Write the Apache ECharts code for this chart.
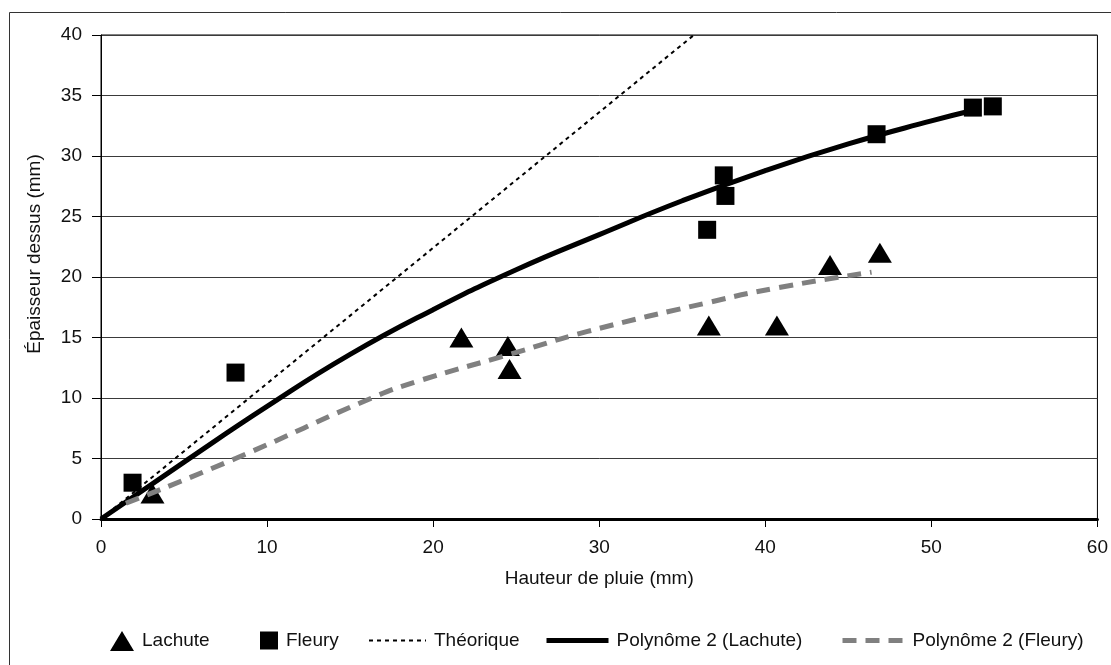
<!DOCTYPE html>
<html>
<head>
<meta charset="utf-8">
<script src="https://cdn.jsdelivr.net/npm/echarts@6/dist/echarts.min.js"></script>
<style>
  html, body { margin: 0; padding: 0; background: #fff; }
  #chart { width: 1111px; height: 665px; }
</style>
</head>
<body>
<div id="chart"></div>
<script>
// points
const lachuteX = [3.1, 21.7, 24.5, 24.6, 36.6, 40.7, 43.9, 46.9];
const lachuteY = [2.1, 15.0, 14.3, 12.4, 16.0, 16.0, 21.0, 22.0];
const fleuryX = [1.9, 8.1, 36.5, 37.5, 37.6, 46.7, 52.5, 53.7];
const fleuryY = [3.0, 12.1, 23.9, 28.4, 26.7, 31.8, 34.0, 34.1];
// traced lines
const theoX = [0, 35.7];
const theoY = [0, 40];
const polyLachuteX = [0, 5, 10, 15, 20, 25, 30, 35, 40, 45, 50, 52.6];
const polyLachuteY = [0, 4.7, 9.3, 13.6, 17.3, 20.6, 23.5, 26.3, 28.8, 31.0, 32.9, 33.8];
const polyFleuryX = [1.5, 8.1, 16.3, 19.1, 24.6, 29.3, 36.6, 40.7, 46.4];
const polyFleuryY = [1.3, 5, 10, 11.4, 13.6, 15.5, 17.9, 19.1, 20.4];

const font = "'Liberation Sans', Arial, sans-serif";
const fs = 19;

function pairs(xs, ys) {
  return xs.map((x, i) => [x, ys[i]]);
}

function legendAt(name, left, w, h, lineW) {
  let l = {
    data: [name],
    left: left,
    top: 626,
    itemWidth: w,
    itemHeight: h,
    symbolKeepAspect: false,
    textStyle: { fontFamily: font, fontSize: fs, color: '#111', padding: [0, 0, 0, 3] }
  };
  if (lineW) {
    l.itemStyle = { color: 'rgba(0,0,0,0)', borderWidth: 0, opacity: 0 };
    l.lineStyle = { width: lineW };
  }
  return l;
}

let myCharts = echarts.init(document.getElementById('chart'));
let option = {
  animation: false,
  backgroundColor: '#fff',
  graphic: [
    {
      type: 'rect',
      shape: { x: 9.5, y: 12.5, width: 1200, height: 700 },
      style: { fill: 'none', stroke: '#333', lineWidth: 1 },
      silent: true
    },
    {
      type: 'text',
      x: 35, y: 254,
      rotation: Math.PI / 2,
      style: {
        text: 'Épaisseur dessus (mm)',
        fontFamily: font, fontSize: fs, fill: '#111',
        textAlign: 'center', textVerticalAlign: 'middle'
      },
      silent: true
    }
  ],
  grid: {
    left: 101, right: 11, top: 35, bottom: 146,
    show: true, borderColor: '#000', borderWidth: 1, backgroundColor: 'transparent'
  },
  legend: [
    legendAt('Lachute', 105, 24, 20),
    legendAt('Fleury', 255, 18, 18),
    legendAt('Théorique', 363, 57, 20, 2),
    legendAt('Polynôme 2 (Lachute)', 539, 62, 20, 5),
    legendAt('Polynôme 2 (Fleury)', 835, 62, 20, 5)
  ],
  xAxis: {
    type: 'value', min: 0, max: 60, interval: 10,
    name: 'Hauteur de pluie (mm)', nameLocation: 'middle', nameGap: 50,
    nameTextStyle: { fontFamily: font, fontSize: fs, color: '#111' },
    axisLine: { onZero: false, lineStyle: { color: '#000', width: 3 } },
    axisTick: { show: true, length: 8, lineStyle: { color: '#000', width: 1 } },
    axisLabel: { margin: 19, fontFamily: font, fontSize: fs, color: '#111' },
    splitLine: { show: false }
  },
  yAxis: {
    type: 'value', min: 0, max: 40, interval: 5,
    axisLine: { show: true, onZero: false, lineStyle: { color: '#000', width: 1 } },
    axisTick: { show: true, length: 9, lineStyle: { color: '#000', width: 1 } },
    axisLabel: { margin: 19, fontFamily: font, fontSize: fs, color: '#111' },
    splitLine: { show: true, lineStyle: { color: '#3a3a3a', width: 1 } }
  },
  series: [
    {
      name: 'Lachute', type: 'scatter', symbol: 'triangle', symbolSize: [24, 20],
      itemStyle: { color: '#000', opacity: 1 }, data: pairs(lachuteX, lachuteY), z: 2
    },
    {
      name: 'Fleury', type: 'scatter', symbol: 'rect', symbolSize: 18,
      itemStyle: { color: '#000', opacity: 1 }, data: pairs(fleuryX, fleuryY), z: 2
    },
    {
      name: 'Théorique', type: 'line', symbol: 'none', showSymbol: false,
      lineStyle: { color: '#000', width: 2, type: [4, 4] },
      itemStyle: { color: '#000' },
      data: pairs(theoX, theoY), z: 3
    },
    {
      name: 'Polynôme 2 (Lachute)', type: 'line', symbol: 'none', showSymbol: false, smooth: true,
      lineStyle: { color: '#000', width: 5 },
      itemStyle: { color: '#000' },
      data: pairs(polyLachuteX, polyLachuteY), z: 3
    },
    {
      name: 'Polynôme 2 (Fleury)', type: 'line', symbol: 'none', showSymbol: false, smooth: true,
      lineStyle: { color: '#808080', width: 5, type: [14, 9] },
      itemStyle: { color: '#808080' },
      data: pairs(polyFleuryX, polyFleuryY), z: 3
    }
  ]
};
myCharts.setOption(option);
</script>
</body>
</html>
